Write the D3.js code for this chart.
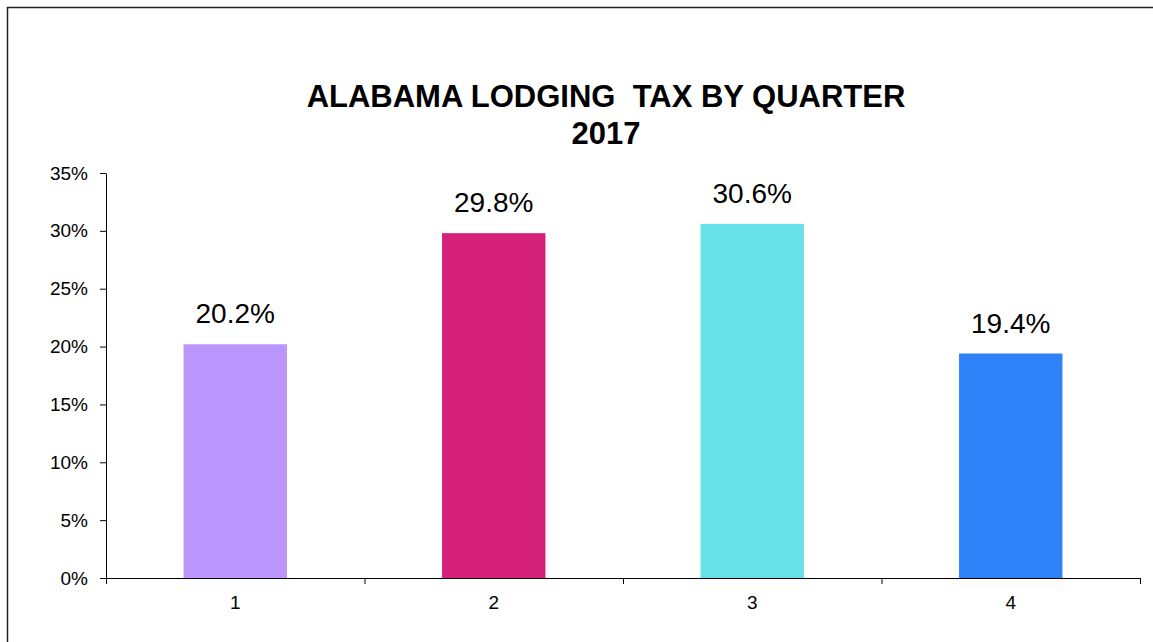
<!DOCTYPE html>
<html>
<head>
<meta charset="utf-8">
<script src="https://cdn.jsdelivr.net/npm/d3@7"></script>
<style>
  body { margin: 0; background: #fff; }
  svg { display: block; font-family: "Liberation Sans", Arial, sans-serif; }
</style>
</head>
<body>
<div id="chart"></div>
<script>
// quarters and their share of the year's lodging tax
const quarters = ["1", "2", "3", "4"];
const shares = [20.2, 29.8, 30.6, 19.4];
const barColors = ["#bb96fd", "#d5217a", "#66e1e7", "#2e82f8"];
const yTicks = [0, 5, 10, 15, 20, 25, 30, 35];
const titleLines = ["ALABAMA LODGING  TAX BY QUARTER", "2017"];

const width = 1153, height = 642;
const margin = { top: 173, right: 13, bottom: 64, left: 106 };

const svg = d3.select("#chart").append("svg")
  .attr("width", width)
  .attr("height", height);

// outer chart frame (runs off the page at right and bottom)
svg.append("rect")
  .attr("x", 7.5).attr("y", 7.5)
  .attr("width", width + 20).attr("height", height + 20)
  .attr("fill", "none")
  .attr("stroke", "#222")
  .attr("stroke-width", 1.5);

const x = d3.scaleBand()
  .domain(quarters)
  .range([margin.left, width - margin.right])
  .paddingInner(0.6)
  .paddingOuter(0.3);

// boundaries between categories, for the tick marks
const xEdges = d3.scaleLinear()
  .domain([0, quarters.length])
  .range([margin.left, width - margin.right]);

const y = d3.scaleLinear()
  .domain([0, 35])
  .range([height - margin.bottom, margin.top]);

// bars
svg.append("g")
  .selectAll("rect")
  .data(shares)
  .join("rect")
  .attr("x", (d, i) => x(quarters[i]))
  .attr("y", d => y(d))
  .attr("width", x.bandwidth())
  .attr("height", d => y(0) - y(d))
  .attr("fill", (d, i) => barColors[i]);

// y axis
svg.append("g")
  .attr("transform", `translate(${margin.left},0)`)
  .call(d3.axisLeft(y).tickValues(yTicks).tickSize(6).tickSizeOuter(0)
    .tickPadding(12).tickFormat(d => d + "%"))
  .call(g => g.selectAll("text").style("font-size", "19px").attr("fill", "#000"))
  .call(g => g.selectAll("line, path").attr("stroke", "#000"));

// x axis: tick marks at the category edges
svg.append("g")
  .attr("transform", `translate(0,${y(0)})`)
  .call(d3.axisBottom(xEdges).tickValues(d3.range(quarters.length + 1))
    .tickSize(6).tickSizeOuter(0).tickFormat(""))
  .call(g => g.selectAll("line, path").attr("stroke", "#000"));

// x axis: category labels
svg.append("g")
  .attr("transform", `translate(0,${y(0)})`)
  .call(d3.axisBottom(x).tickSize(0).tickPadding(18))
  .call(g => g.select(".domain").remove())
  .call(g => g.selectAll("text").style("font-size", "19px").attr("fill", "#000"));

// value labels above bars
svg.append("g")
  .selectAll("text")
  .data(shares)
  .join("text")
  .attr("x", (d, i) => x(quarters[i]) + x.bandwidth() / 2)
  .attr("y", d => y(d) - 21)
  .attr("text-anchor", "middle")
  .style("font-size", "28px")
  .text(d => d.toFixed(1) + "%");

// title
svg.append("text")
  .attr("x", 606)
  .attr("y", 107)
  .attr("text-anchor", "middle")
  .style("font-size", "31px")
  .style("font-weight", "bold")
  .style("white-space", "pre")
  .selectAll("tspan")
  .data(titleLines)
  .join("tspan")
  .attr("x", 606)
  .attr("dy", (d, i) => i === 0 ? 0 : 37)
  .text(d => d);
</script>
</body>
</html>
